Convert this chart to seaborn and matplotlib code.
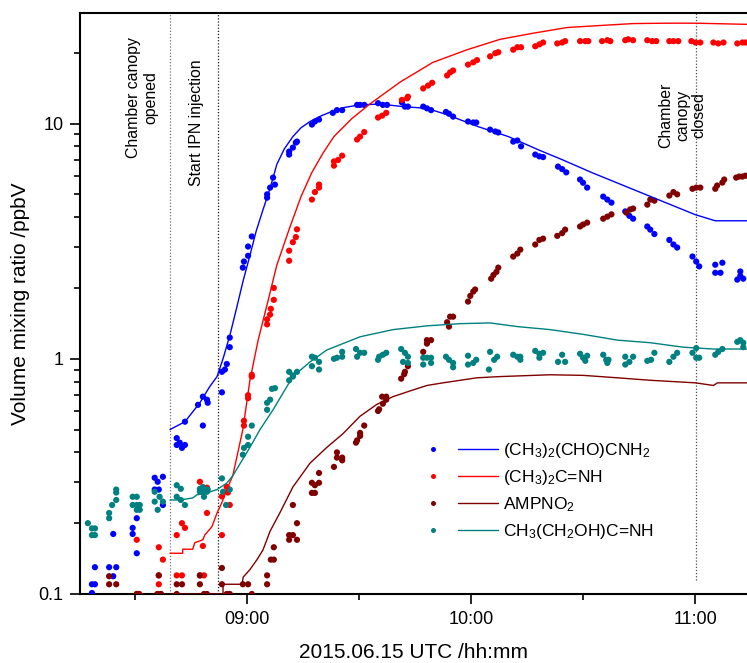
import numpy as np
import pandas as pd
import matplotlib
matplotlib.use("Agg")
import matplotlib.pyplot as plt
import matplotlib.dates as mdates
import matplotlib.transforms as mtransforms
from matplotlib.lines import Line2D
from matplotlib.legend_handler import HandlerTuple
from matplotlib.ticker import FixedLocator, LogLocator, NullFormatter, FuncFormatter
import seaborn as sns

# ---------------- data (time in minutes after 08:00 UTC, values in ppbV) ----------------
blue_min = [18.5, 19.3, 19.3, 18.5, 23.1, 25.0, 24.2, 24.2, 29.4, 29.4, 30.5, 30.5,
            35.3, 37.5, 36.1, 35.3, 36.4, 37.5, 41.2, 42.0, 41.2, 43.4, 42.6, 43.4,
            46.9, 48.2, 49.3, 49.5, 48.2, 53.3, 53.3, 54.1, 54.6, 55.4, 55.4,
            58.9, 59.2, 60.3, 60.3, 61.3, 65.4, 65.4, 66.2, 67.5, 67.0,
            71.3, 71.3, 72.3, 73.4, 73.1, 77.4, 78.2, 79.3, 83.0, 84.1, 85.5,
            89.5, 90.3, 91.4, 95.1, 96.4, 97.5, 101.5, 102.3, 103.1, 107.2, 108.2, 109.3,
            113.3, 114.1, 115.2, 119.2, 120.6, 121.4, 125.1, 126.5, 127.3, 131.3, 132.4, 133.4,
            137.2, 138.3, 139.3, 143.3, 144.4, 145.5, 149.2, 150.0, 151.1, 155.4, 156.5, 157.6,
            161.3, 162.4, 163.4, 167.2, 168.0, 169.1, 173.1, 174.2, 175.2, 179.3, 180.3, 181.1,
            185.4, 187.3, 185.4, 186.8, 192.1, 192.1, 191.3, 192.9]
blue_val = [0.11, 0.11, 0.13, 0.101, 0.13, 0.13, 0.119, 0.18, 0.191, 0.18, 0.21, 0.149,
            0.312, 0.315, 0.30, 0.278, 0.278, 0.239, 0.46, 0.44, 0.43, 0.43, 0.418, 0.54,
            0.637, 0.69, 0.67, 0.65, 0.52, 0.72, 0.88, 0.90, 0.95, 1.12, 1.23,
            2.44, 2.59, 2.74, 3.0, 3.31, 4.84, 5.0, 5.34, 5.5, 5.89,
            7.38, 7.6, 7.9, 8.38, 8.3, 9.9, 10.2, 10.4, 11.1, 11.4, 11.4,
            12.0, 12.0, 12.0, 12.2, 12.0, 12.0, 12.3, 11.8, 11.8, 11.8, 11.6, 11.4,
            11.2, 11.0, 10.7, 10.2, 10.1, 10.1, 9.42, 9.25, 9.16, 8.38, 8.47, 8.0,
            7.38, 7.25, 7.2, 6.56, 6.4, 6.2, 5.78, 5.6, 5.34, 4.89, 4.75, 4.61,
            4.23, 4.05, 3.94, 3.65, 3.54, 3.39, 3.2, 3.06, 2.97, 2.72, 2.59, 2.47,
            2.51, 2.56, 2.32, 2.32, 2.35, 2.25, 2.17, 2.19]

red_min = [30.5, 30.5, 31.2, 36.4, 37.5, 36.4, 36.4, 36.8, 42.6, 43.4, 41.2, 41.2, 42.6,
           47.4, 49.3, 49.3, 48.2, 47.4, 48.5, 53.3, 53.3, 54.6, 54.9, 55.4,
           59.2, 59.2, 60.3, 60.3, 61.3, 61.3, 65.4, 65.4, 66.2, 66.4, 67.2, 67.2,
           71.3, 71.3, 72.3, 73.1, 73.4, 77.4, 78.2, 79.3, 79.3, 83.3, 83.3, 84.4, 85.5,
           89.5, 90.3, 91.4, 95.1, 96.2, 97.3, 101.5, 102.9, 103.1, 107.2, 108.5, 109.6,
           113.6, 114.4, 115.2, 119.2, 120.6, 121.6, 125.1, 126.5, 127.3, 131.3, 132.4, 133.4,
           137.2, 138.3, 139.3, 143.1, 144.4, 145.2, 149.2, 150.6, 151.4, 155.1, 156.5, 157.3,
           161.3, 162.1, 163.4, 167.2, 168.5, 169.6, 173.1, 174.2, 175.5, 179.0, 180.1, 181.4,
           184.9, 186.2, 187.6, 191.3, 192.7, 193.5]
red_val = [0.17, 0.1, 0.1, 0.158, 0.14, 0.12, 0.11, 0.1, 0.2, 0.191, 0.178, 0.12, 0.12,
           0.3, 0.283, 0.221, 0.16, 0.12, 0.12, 0.178, 0.26, 0.285, 0.27, 0.239,
           0.545, 0.52, 0.70, 0.68, 0.855, 0.84, 1.40, 1.47, 1.54, 1.63, 1.78, 2.0,
           2.61, 2.88, 3.13, 3.29, 3.55, 4.75, 5.11, 5.34, 5.5, 6.62, 6.9, 7.0, 7.3,
           8.55, 8.8, 9.2, 10.6, 10.8, 11.1, 12.6, 12.8, 13.0, 14.1, 14.5, 14.9,
           16.0, 16.5, 16.8, 17.8, 18.2, 18.6, 19.3, 19.9, 20.1, 20.6, 21.1, 21.1,
           21.3, 21.7, 22.1, 21.9, 22.1, 22.4, 22.4, 22.4, 22.4, 22.4, 22.6, 22.4,
           22.6, 22.8, 22.6, 22.6, 22.4, 22.4, 22.4, 22.4, 22.4, 22.4, 22.1, 22.1,
           22.1, 21.9, 22.1, 21.9, 22.1, 22.1]

amp_min = [23.1, 23.1, 25.0, 30.5, 31.0, 36.4, 36.0, 37.0, 41.2, 42.6, 41.2,
           47.4, 47.4, 48.5, 49.3, 53.3, 53.3, 54.6, 55.4, 58.9, 60.3, 61.3,
           65.4, 65.4, 67.2, 66.4, 67.2, 71.3, 72.3, 71.3, 73.4, 73.4, 72.3,
           77.4, 78.2, 77.4, 78.2, 79.3, 79.3, 83.3, 84.1, 85.5, 84.1, 85.5,
           89.2, 89.5, 90.3, 90.3, 91.4, 95.1, 95.4, 96.4, 96.2, 97.3, 97.3,
           101.3, 102.1, 102.3, 103.1, 107.2, 108.2, 108.2, 109.3, 113.6, 114.4, 115.2, 114.1,
           119.2, 119.8, 120.6, 121.1, 125.4, 126.0, 126.8, 127.3, 131.3, 132.4, 133.2,
           137.2, 138.3, 139.3, 143.1, 144.4, 145.2, 149.2, 150.0, 151.1, 155.4, 156.5, 157.6,
           161.6, 162.6, 163.4, 167.2, 168.0, 169.1, 173.1, 174.2, 175.2, 179.3, 180.3, 181.4,
           185.4, 185.9, 187.3, 187.8, 191.0, 191.8, 192.7, 193.5]
amp_val = [0.119, 0.11, 0.11, 0.1, 0.1, 0.12, 0.1, 0.1, 0.11, 0.11, 0.1,
           0.12, 0.11, 0.1, 0.1, 0.129, 0.11, 0.1, 0.1, 0.11, 0.11, 0.1,
           0.12, 0.11, 0.14, 0.14, 0.158, 0.178, 0.178, 0.17, 0.17, 0.2, 0.239,
           0.269, 0.269, 0.297, 0.29, 0.297, 0.327, 0.347, 0.38, 0.38, 0.40, 0.37,
           0.44, 0.45, 0.484, 0.47, 0.52, 0.60, 0.61, 0.644, 0.69, 0.69, 0.67,
           0.823, 0.86, 0.88, 0.93, 1.07, 1.16, 1.2, 1.2, 1.43, 1.51, 1.51, 1.37,
           1.75, 1.85, 1.93, 1.97, 2.19, 2.27, 2.34, 2.44, 2.72, 2.80, 2.91,
           3.06, 3.2, 3.24, 3.33, 3.42, 3.54, 3.65, 3.72, 3.79, 3.94, 4.02, 4.11,
           4.18, 4.31, 4.35, 4.52, 4.75, 4.70, 4.94, 5.11, 5.0, 5.28, 5.34, 5.34,
           5.28, 5.45, 5.61, 5.78, 5.89, 5.95, 5.95, 6.0]

teal_min = [17.4, 18.5, 19.3, 18.5, 19.3, 23.1, 23.1, 23.9, 25.0, 25.0, 25.0,
            29.4, 30.5, 29.4, 30.5, 31.3, 30.5, 31.3, 35.3, 35.3, 36.1, 36.6, 37.5,
            41.2, 42.3, 41.2, 42.3, 43.4, 47.4, 48.2, 47.4, 48.2, 49.3, 48.5, 49.5,
            53.3, 53.6, 54.4, 55.4, 58.9, 59.2, 60.3, 60.3, 61.3, 65.4, 65.4, 66.2, 66.7, 67.5,
            71.3, 71.3, 72.3, 72.3, 73.4, 77.4, 77.4, 78.2, 79.3, 79.3, 83.3, 84.1, 85.5, 85.5,
            89.2, 89.5, 90.3, 91.4, 95.1, 95.4, 96.4, 97.3, 101.3, 102.3, 103.1, 101.8, 103.1,
            107.2, 107.2, 108.2, 109.3, 109.3, 113.3, 114.1, 115.2, 115.2,
            119.2, 119.2, 120.6, 121.4, 125.1, 124.8, 126.2, 127.0, 131.3, 132.4, 133.2, 133.2,
            137.2, 138.3, 139.3, 138.3, 143.3, 144.4, 145.2, 149.2, 150.0, 151.1, 150.6,
            155.4, 156.2, 156.8, 156.5, 161.3, 162.4, 163.4, 161.3, 167.2, 168.2, 169.1,
            173.1, 174.2, 175.2, 179.3, 180.3, 180.3, 181.1, 185.4, 186.2, 187.3,
            191.3, 192.1, 192.9, 192.9]
teal_val = [0.2, 0.19, 0.19, 0.178, 0.178, 0.221, 0.21, 0.239, 0.251, 0.278, 0.27,
            0.259, 0.259, 0.239, 0.239, 0.239, 0.228, 0.228, 0.272, 0.247, 0.228, 0.259, 0.247,
            0.29, 0.28, 0.259, 0.251, 0.239, 0.28, 0.285, 0.272, 0.272, 0.272, 0.259, 0.278,
            0.31, 0.272, 0.239, 0.278, 0.391, 0.418, 0.43, 0.466, 0.52, 0.607, 0.65, 0.67, 0.745, 0.75,
            0.81, 0.88, 0.84, 0.85, 0.88, 0.93, 1.02, 1.01, 0.97, 0.90, 1.0, 1.01, 1.07, 1.02,
            1.10, 1.02, 1.06, 1.06, 0.99, 1.02, 1.04, 1.06, 1.10, 1.06, 1.02, 0.97, 0.96,
            1.01, 0.945, 1.01, 1.01, 0.96, 1.02, 0.99, 0.96, 0.92,
            1.03, 0.945, 0.96, 0.99, 1.07, 0.90, 0.99, 1.02, 1.04, 1.02, 1.02, 0.99,
            1.08, 1.05, 1.06, 1.01, 0.97, 1.04, 0.97, 1.05, 1.01, 1.03, 0.98,
            1.04, 0.99, 0.99, 0.96, 1.02, 0.97, 1.02, 0.945, 0.98, 0.99, 1.06,
            0.97, 1.02, 1.06, 1.06, 1.01, 1.11, 1.01, 1.04, 1.07, 1.10,
            1.18, 1.2, 1.17, 1.12]

# model curves
blue_fit_min = [39.4, 43.4, 47.4, 50.0, 52.0, 53.6, 55.5, 57.3, 59.0, 60.8, 62.5, 64.3, 66.2,
                68.0, 70.0, 72.3, 74.5, 76.9, 80.0, 83.0, 86.0, 90.3, 95.6, 101.8, 108.2,
                113.6, 121.9, 130.0, 138.3, 144.6, 152.2, 168.0, 180.0, 185.4, 193.9]
blue_fit_val = [0.50, 0.54, 0.65, 0.76, 0.84, 1.0, 1.27, 1.66, 2.15, 2.75, 3.5, 4.3, 5.3,
                6.7, 7.8, 8.8, 9.6, 10.2, 10.8, 11.3, 11.7, 12.0, 12.1, 11.8, 11.6,
                10.9, 9.7, 8.8, 7.7, 7.0, 6.2, 4.9, 4.1, 3.86, 3.86]

red_fit_min = [39.4, 42.8, 42.8, 45.5, 46.0, 48.2, 48.7, 50.6, 52.0, 53.3, 54.6, 56.2, 58.9,
               60.8, 63.0, 65.4, 68.0, 71.3, 74.5, 77.4, 80.4, 83.3, 88.1, 92.9, 101.0, 109.8,
               119.0, 127.8, 136.6, 145.8, 154.6, 163.4, 172.5, 180.0, 193.9]
red_fit_val = [0.149, 0.149, 0.155, 0.155, 0.165, 0.17, 0.178, 0.193, 0.221, 0.245, 0.278, 0.318, 0.5,
               0.81, 1.2, 1.7, 2.5, 3.55, 4.9, 6.2, 7.5, 8.8, 10.5, 12.1, 15.0, 18.2,
               20.6, 22.8, 24.2, 25.6, 26.1, 26.6, 26.7, 26.7, 26.4]

amp_fit_min = [39.4, 53.6, 53.6, 58.7, 59.0, 60.8, 62.7, 64.3, 66.2, 68.8, 72.3, 76.9, 81.4,
               85.7, 90.3, 94.8, 99.1, 103.7, 108.2, 112.5, 117.1, 121.6, 127.8, 141.2, 150.0,
               159.2, 168.0, 180.1, 184.9, 186.0, 193.9]
amp_fit_val = [0.1, 0.1, 0.11, 0.11, 0.118, 0.127, 0.14, 0.154, 0.185, 0.221, 0.285, 0.36, 0.42,
               0.48, 0.57, 0.64, 0.69, 0.73, 0.77, 0.79, 0.81, 0.83, 0.84, 0.855, 0.85,
               0.83, 0.81, 0.79, 0.77, 0.79, 0.79]

teal_fit_min = [39.4, 42.0, 45.5, 46.6, 49.3, 52.0, 53.6, 54.6, 56.2, 58.7, 60.8, 63.5, 67.0,
                71.5, 72.3, 76.9, 81.4, 90.3, 99.1, 108.2, 117.1, 125.1, 132.4, 141.2, 150.0,
                159.2, 168.0, 176.8, 184.9, 193.9]
teal_fit_val = [0.251, 0.251, 0.256, 0.264, 0.269, 0.278, 0.289, 0.296, 0.318, 0.37, 0.42, 0.5, 0.607,
                0.8, 0.84, 0.97, 1.09, 1.24, 1.33, 1.38, 1.41, 1.42, 1.37, 1.33, 1.27,
                1.2, 1.17, 1.12, 1.10, 1.10]

labels = [r"(CH$_3$)$_2$(CHO)CNH$_2$", r"(CH$_3$)$_2$C=NH", r"AMPNO$_2$", r"CH$_3$(CH$_2$OH)C=NH"]
colors = ["#0000FF", "#FF0000", "#800000", "#008080"]
event_min = [39.4, 52.2, 180.3]
event_text = ["Chamber canopy\nopened", "Start IPN injection", "Chamber\ncanopy\nclosed"]

# ---------------- plotting ----------------
sns.set_theme(style="ticks")
plt.rcParams["font.family"] = ["Liberation Sans", "DejaVu Sans"]
plt.rcParams["mathtext.default"] = "regular"
plt.rcParams["text.color"] = "black"
plt.rcParams["axes.labelcolor"] = "black"
plt.rcParams["xtick.color"] = "black"
plt.rcParams["ytick.color"] = "black"

t0 = pd.Timestamp("2015-06-15 08:00")


def tt(m):
    return t0 + pd.to_timedelta(np.asarray(m, dtype=float), unit="min")


fig = plt.figure(figsize=(7.47, 6.63), dpi=100)
ax = fig.add_axes([80 / 747, 1 - 594 / 663, 1 - 80 / 747, (594 - 13) / 663])

series = [(blue_min, blue_val, blue_fit_min, blue_fit_val),
          (red_min, red_val, red_fit_min, red_fit_val),
          (amp_min, amp_val, amp_fit_min, amp_fit_val),
          (teal_min, teal_val, teal_fit_min, teal_fit_val)]

for (pm, pv, fm, fv), c in zip(series, colors):
    sns.scatterplot(x=tt(pm), y=pv, color=c, s=20, edgecolor="none", linewidth=0,
                    ax=ax, legend=False, zorder=3)
    sns.lineplot(x=tt(fm), y=fv, color=c, lw=1.0, estimator=None, sort=False,
                 ax=ax, legend=False, zorder=4)

ax.set_yscale("log")
ax.set_ylim(0.1, 29.5)
ax.set_xlim(tt([15.3])[0], tt([193.9])[0])

# event lines
ev = tt(event_min)
ax.axvline(ev[0], color="0.45", ls=(0, (1, 1.5)), lw=0.9, zorder=2)
ax.axvline(ev[1], color="0.1", ls=(0, (1, 1.5)), lw=0.9, zorder=2)
ax.axvline(ev[2], ymin=0.024, ymax=1, color="0.3", ls=(0, (1, 1.5)), lw=0.9, zorder=2)

trans = mtransforms.blended_transform_factory(ax.transData, ax.transAxes)
txt_pos = [(31.9, 0.855), (46.6, 0.812), (176.6, 0.824)]
for (m, yf), s in zip(txt_pos, event_text):
    ax.text(mdates.date2num(tt([m])[0]), yf, s, rotation=90, ha="center", va="center",
            multialignment="center", transform=trans, fontsize=11.4, linespacing=1.15,
            color="black")

# axes styling
for sp in ["left", "bottom", "top"]:
    ax.spines[sp].set_linewidth(1.5)
    ax.spines[sp].set_color("black")
ax.spines["right"].set_visible(False)

ax.yaxis.set_major_locator(FixedLocator([0.1, 1, 10]))
ax.yaxis.set_minor_locator(LogLocator(base=10, subs=np.arange(2, 10)))
ax.yaxis.set_major_formatter(FuncFormatter(lambda v, p: {0.1: "0.1", 1.0: "1", 10.0: "10"}.get(round(v, 3), "")))
ax.yaxis.set_minor_formatter(NullFormatter())
ax.xaxis.set_major_locator(mdates.HourLocator())
ax.xaxis.set_minor_locator(mdates.MinuteLocator(byminute=[30]))
ax.xaxis.set_major_formatter(mdates.DateFormatter("%H:%M"))

ax.tick_params(which="both", direction="out", color="black", labelcolor="black", width=1.2,
               labelsize=13, left=True, bottom=True, top=False, right=False)
ax.tick_params(which="major", length=7, pad=5)
ax.tick_params(which="minor", length=4.3)

ax.set_xlabel("2015.06.15 UTC /hh:mm", fontsize=15, labelpad=11, color="black")
ax.set_ylabel("Volume mixing ratio /ppbV", fontsize=15, labelpad=6, color="black")

# legend: dot, gap, line, label
handles = [(Line2D([], [], ls="none", marker="o", ms=3.6, mfc=c, mec="none"),
            Line2D([], [], color=c, lw=1.0)) for c in colors]
leg = ax.legend(handles, labels, handler_map={tuple: HandlerTuple(ndivide=None, pad=0.29)},
                loc="upper left", bbox_to_anchor=(0.499, 0.2625), frameon=False, fontsize=12.5,
                handlelength=4.9, handletextpad=0.29, borderpad=0, borderaxespad=0,
                labelspacing=0.45)
for t in leg.get_texts():
    t.set_color("black")

fig.savefig("out.png", dpi=100)
